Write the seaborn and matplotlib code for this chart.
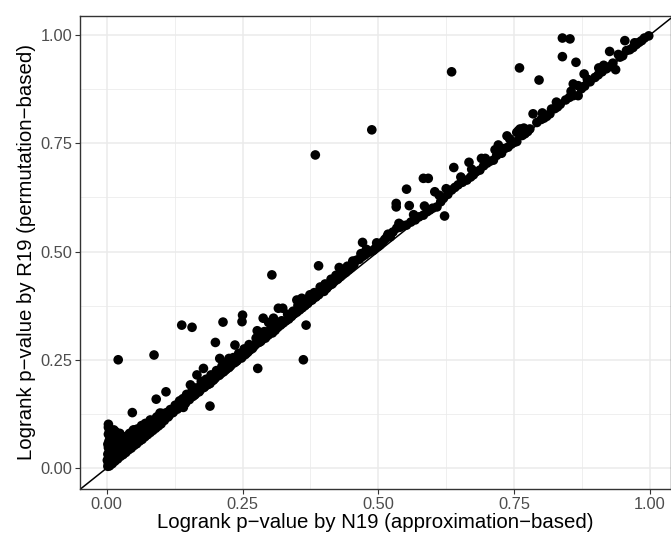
import pandas as pd
import matplotlib
matplotlib.use("Agg")
import matplotlib.pyplot as plt
import seaborn as sns
from matplotlib.ticker import MultipleLocator

# p-values (N19 approximation vs R19 permutation)
n19_p = [
    # dense cluster near zero
    0.002, 0.003, 0.001, 0.004, 0.002, 0.005, 0.003, 0.002, 0.004, 0.006,
    0.003, 0.005, 0.003, 0.003, 0.013, 0.016, 0.008, 0.010, 0.009, 0.012,
    0.014, 0.011, 0.018, 0.020, 0.022, 0.025, 0.027, 0.030, 0.032, 0.034,
    0.035, 0.038, 0.040, 0.042, 0.045, 0.047, 0.049, 0.052, 0.050, 0.055,
    0.058, 0.060, 0.062, 0.065, 0.068, 0.071, 0.072, 0.075, 0.078, 0.080,
    0.080, 0.083, 0.086, 0.088, 0.091, 0.092, 0.094, 0.098, 0.100, 0.102,
    0.105, 0.108, 0.109, 0.112, 0.115, 0.120, 0.118, 0.124, 0.128, 0.132,
    0.135, 0.138, 0.141,
    0.005, 0.010, 0.015, 0.020, 0.025, 0.030, 0.035, 0.040, 0.045, 0.050,
    0.055, 0.060, 0.065, 0.070, 0.075, 0.080, 0.085, 0.090, 0.095, 0.100,
    0.012, 0.015, 0.008, 0.020, 0.024, 0.028, 0.033, 0.037, 0.043, 0.048,
    0.053, 0.057, 0.063, 0.067, 0.073, 0.077, 0.082, 0.087, 0.090, 0.096,
    0.006, 0.007, 0.009, 0.011, 0.013, 0.015, 0.017, 0.019, 0.021, 0.023,
    0.026, 0.028, 0.031, 0.033, 0.036, 0.039, 0.041, 0.044, 0.046, 0.049,
    0.051, 0.054, 0.056, 0.059, 0.061, 0.064, 0.066, 0.069, 0.071, 0.074,
    0.076, 0.079, 0.081, 0.084, 0.086, 0.089, 0.093, 0.097, 0.099, 0.103,
    0.106, 0.110, 0.113, 0.117, 0.122, 0.126, 0.130, 0.134, 0.137, 0.140,
    # outliers at the low end
    0.021, 0.087, 0.138, 0.157,
    # band from 0.15 to 0.5
    0.145, 0.150, 0.154, 0.158, 0.160, 0.163, 0.166, 0.168, 0.172, 0.175,
    0.178, 0.180, 0.185, 0.188, 0.190, 0.190, 0.195, 0.200, 0.200, 0.204,
    0.208, 0.209, 0.210, 0.214, 0.215, 0.220, 0.225, 0.225, 0.230, 0.236,
    0.235, 0.240, 0.246, 0.249, 0.250, 0.250, 0.255, 0.260, 0.264, 0.268,
    0.273, 0.277, 0.278, 0.280, 0.285, 0.288, 0.288, 0.292, 0.296, 0.298,
    0.301, 0.304, 0.305, 0.307, 0.310, 0.316, 0.315, 0.320, 0.324, 0.325,
    0.330, 0.335, 0.340, 0.345, 0.350, 0.350, 0.355, 0.359, 0.360, 0.365,
    0.367, 0.362, 0.370, 0.374, 0.378, 0.384, 0.385, 0.390, 0.390, 0.396,
    0.400, 0.405, 0.411, 0.415, 0.420, 0.425, 0.428, 0.430, 0.436, 0.440,
    0.445, 0.450, 0.455, 0.460, 0.465, 0.471, 0.470, 0.475, 0.480, 0.485,
    0.488, 0.491, 0.495,
    0.143, 0.147, 0.152, 0.156, 0.161, 0.165, 0.170, 0.174, 0.179, 0.183,
    0.187, 0.192, 0.197, 0.202, 0.207, 0.212, 0.218, 0.222, 0.228, 0.233,
    0.238, 0.243, 0.248, 0.253, 0.258, 0.262, 0.270, 0.275, 0.283, 0.290,
    0.298, 0.312, 0.322, 0.333, 0.343, 0.352, 0.363, 0.372, 0.382, 0.393,
    0.402, 0.413, 0.422, 0.434, 0.443, 0.453, 0.468, 0.478, 0.497,
    # band from 0.5 to 1
    0.500, 0.503, 0.508, 0.512, 0.516, 0.522, 0.527, 0.533, 0.533, 0.534,
    0.540, 0.546, 0.552, 0.552, 0.557, 0.560, 0.568, 0.575, 0.583, 0.583,
    0.592, 0.590, 0.595, 0.600, 0.604, 0.608, 0.615, 0.620, 0.622, 0.628,
    0.635, 0.635, 0.639, 0.641, 0.647, 0.655, 0.663, 0.667, 0.670, 0.675,
    0.680, 0.687, 0.690, 0.694, 0.700, 0.705, 0.712, 0.718, 0.721, 0.727,
    0.733, 0.737, 0.739, 0.745, 0.750, 0.755, 0.755, 0.758, 0.760, 0.761,
    0.765, 0.770, 0.775, 0.779, 0.785, 0.792, 0.796, 0.800, 0.805, 0.810,
    0.816, 0.819, 0.825, 0.830, 0.835, 0.839, 0.839, 0.845, 0.853, 0.852,
    0.859, 0.859, 0.864, 0.868, 0.868, 0.874, 0.879, 0.880, 0.886, 0.890,
    0.899, 0.906, 0.905, 0.912, 0.920, 0.926, 0.926, 0.937, 0.932, 0.945,
    0.950, 0.954, 0.957, 0.963, 0.969, 0.975, 0.980, 0.985, 0.990, 0.998,
    0.518, 0.538, 0.565, 0.585, 0.612, 0.625, 0.652, 0.672, 0.697, 0.715,
    0.742, 0.768, 0.802, 0.828, 0.855, 0.885, 0.915, 0.942, 0.972,
]

r19_p = [
    0.004, 0.010, 0.018, 0.025, 0.032, 0.040, 0.047, 0.055, 0.062, 0.070,
    0.078, 0.086, 0.094, 0.101, 0.088, 0.084, 0.015, 0.030, 0.045, 0.022,
    0.040, 0.060, 0.028, 0.050, 0.035, 0.060, 0.045, 0.038, 0.070, 0.072,
    0.050, 0.062, 0.048, 0.080, 0.058, 0.128, 0.088, 0.088, 0.070, 0.062,
    0.078, 0.068, 0.090, 0.075, 0.085, 0.103, 0.080, 0.092, 0.086, 0.111,
    0.105, 0.095, 0.100, 0.092, 0.159, 0.118, 0.105, 0.127, 0.112, 0.126,
    0.115, 0.120, 0.176, 0.125, 0.122, 0.134, 0.128, 0.132, 0.140, 0.142,
    0.150, 0.146, 0.140,
    0.005, 0.010, 0.016, 0.021, 0.027, 0.031, 0.036, 0.042, 0.046, 0.052,
    0.056, 0.062, 0.066, 0.072, 0.077, 0.082, 0.087, 0.092, 0.097, 0.102,
    0.050, 0.065, 0.075, 0.070, 0.080, 0.058, 0.055, 0.045, 0.066, 0.054,
    0.075, 0.066, 0.070, 0.095, 0.088, 0.098, 0.090, 0.110, 0.100, 0.110,
    0.020, 0.035, 0.055, 0.068, 0.018, 0.030, 0.045, 0.058, 0.025, 0.048,
    0.033, 0.070, 0.050, 0.040, 0.060, 0.075, 0.055, 0.050, 0.072, 0.062,
    0.080, 0.068, 0.090, 0.072, 0.080, 0.098, 0.078, 0.092, 0.084, 0.100,
    0.083, 0.095, 0.088, 0.105, 0.092, 0.112, 0.100, 0.120, 0.106, 0.118,
    0.110, 0.128, 0.118, 0.135, 0.128, 0.145, 0.136, 0.155, 0.142, 0.160,
    0.250, 0.261, 0.330, 0.325,
    0.150, 0.160, 0.192, 0.165, 0.184, 0.170, 0.215, 0.176, 0.180, 0.195,
    0.230, 0.188, 0.192, 0.205, 0.195, 0.143, 0.202, 0.290, 0.208, 0.215,
    0.253, 0.226, 0.218, 0.337, 0.222, 0.228, 0.253, 0.232, 0.240, 0.284,
    0.243, 0.248, 0.257, 0.338, 0.353, 0.258, 0.262, 0.268, 0.273, 0.276,
    0.284, 0.317, 0.230, 0.290, 0.295, 0.303, 0.346, 0.300, 0.306, 0.336,
    0.319, 0.446, 0.312, 0.346, 0.318, 0.369, 0.325, 0.330, 0.369, 0.335,
    0.340, 0.344, 0.350, 0.356, 0.388, 0.360, 0.365, 0.392, 0.370, 0.375,
    0.330, 0.250, 0.380, 0.400, 0.388, 0.723, 0.395, 0.467, 0.400, 0.411,
    0.408, 0.415, 0.423, 0.425, 0.434, 0.436, 0.463, 0.442, 0.450, 0.452,
    0.458, 0.463, 0.470, 0.480, 0.482, 0.521, 0.488, 0.492, 0.497, 0.500,
    0.781, 0.503, 0.508,
    0.148, 0.170, 0.158, 0.175, 0.168, 0.185, 0.176, 0.200, 0.186, 0.205,
    0.194, 0.215, 0.204, 0.225, 0.214, 0.235, 0.226, 0.245, 0.236, 0.255,
    0.246, 0.265, 0.254, 0.275, 0.266, 0.285, 0.280, 0.300, 0.292, 0.315,
    0.308, 0.330, 0.340, 0.355, 0.362, 0.375, 0.384, 0.392, 0.405, 0.418,
    0.425, 0.436, 0.445, 0.456, 0.466, 0.478, 0.495, 0.505, 0.520,
    0.512, 0.515, 0.522, 0.528, 0.534, 0.534, 0.545, 0.611, 0.603, 0.554,
    0.556, 0.560, 0.644, 0.561, 0.606, 0.568, 0.573, 0.580, 0.669, 0.584,
    0.669, 0.592, 0.596, 0.600, 0.638, 0.603, 0.615, 0.623, 0.582, 0.632,
    0.642, 0.915, 0.694, 0.648, 0.654, 0.660, 0.665, 0.706, 0.672, 0.677,
    0.684, 0.688, 0.715, 0.698, 0.704, 0.708, 0.711, 0.722, 0.746, 0.727,
    0.738, 0.767, 0.741, 0.748, 0.752, 0.775, 0.754, 0.779, 0.924, 0.783,
    0.768, 0.772, 0.777, 0.783, 0.818, 0.798, 0.896, 0.805, 0.808, 0.812,
    0.818, 0.829, 0.830, 0.834, 0.840, 0.993, 0.950, 0.850, 0.991, 0.856,
    0.887, 0.860, 0.937, 0.883, 0.860, 0.876, 0.910, 0.882, 0.894, 0.892,
    0.902, 0.924, 0.908, 0.915, 0.922, 0.962, 0.927, 0.920, 0.935, 0.949,
    0.952, 0.987, 0.964, 0.966, 0.971, 0.978, 0.983, 0.987, 0.993, 0.998,
    0.540, 0.565, 0.585, 0.605, 0.630, 0.645, 0.672, 0.690, 0.715, 0.735,
    0.760, 0.785, 0.820, 0.845, 0.870, 0.898, 0.930, 0.955, 0.982,
]


def make_plot():
    df = pd.DataFrame({"n19": n19_p, "r19": r19_p})

    sns.set_theme(style="white")
    plt.rcParams["font.family"] = ["Liberation Sans", "DejaVu Sans"]

    fig = plt.figure(figsize=(6.71, 5.40), dpi=100)
    ax = fig.add_axes([0.1195, 0.0944, 0.8805, 0.8767])

    # ggplot theme_bw look: grey92 grid, major and minor lines
    ax.set_axisbelow(True)
    ax.xaxis.set_major_locator(MultipleLocator(0.25))
    ax.yaxis.set_major_locator(MultipleLocator(0.25))
    ax.xaxis.set_minor_locator(MultipleLocator(0.125))
    ax.yaxis.set_minor_locator(MultipleLocator(0.125))
    ax.grid(which="major", color="#EBEBEB", linewidth=1.1)
    ax.grid(which="minor", color="#EBEBEB", linewidth=0.55)

    ax.axline((0, 0), slope=1, color="black", linewidth=1.1, zorder=2)
    sns.scatterplot(data=df, x="n19", y="r19", color="black", s=48,
                    edgecolor="none", linewidth=0, ax=ax, zorder=3)

    ax.set_xlim(-0.049, 1.039)
    ax.set_ylim(-0.0485, 1.0448)
    ax.set_xticks([0.0, 0.25, 0.5, 0.75, 1.0])
    ax.set_yticks([0.0, 0.25, 0.5, 0.75, 1.0])
    ax.set_xticklabels(["0.00", "0.25", "0.50", "0.75", "1.00"])
    ax.set_yticklabels(["0.00", "0.25", "0.50", "0.75", "1.00"])

    ax.tick_params(axis="both", which="major", length=3.5, width=0.8,
                   color="#333333", labelcolor="#4D4D4D", labelsize=11.8,
                   direction="out", bottom=True, left=True, pad=2)
    ax.tick_params(which="minor", length=0)
    for side in ax.spines.values():
        side.set_color("#333333")
        side.set_linewidth(1.0)

    ax.set_xlabel("Logrank p\u2212value by N19 (approximation\u2212based)",
                  fontsize=14.7, color="black", labelpad=1)
    ax.set_ylabel("Logrank p\u2212value by R19 (permutation\u2212based)",
                  fontsize=14.7, color="black", labelpad=3)

    fig.savefig("out.png", dpi=100)
    plt.close(fig)


if __name__ == "__main__":
    make_plot()
